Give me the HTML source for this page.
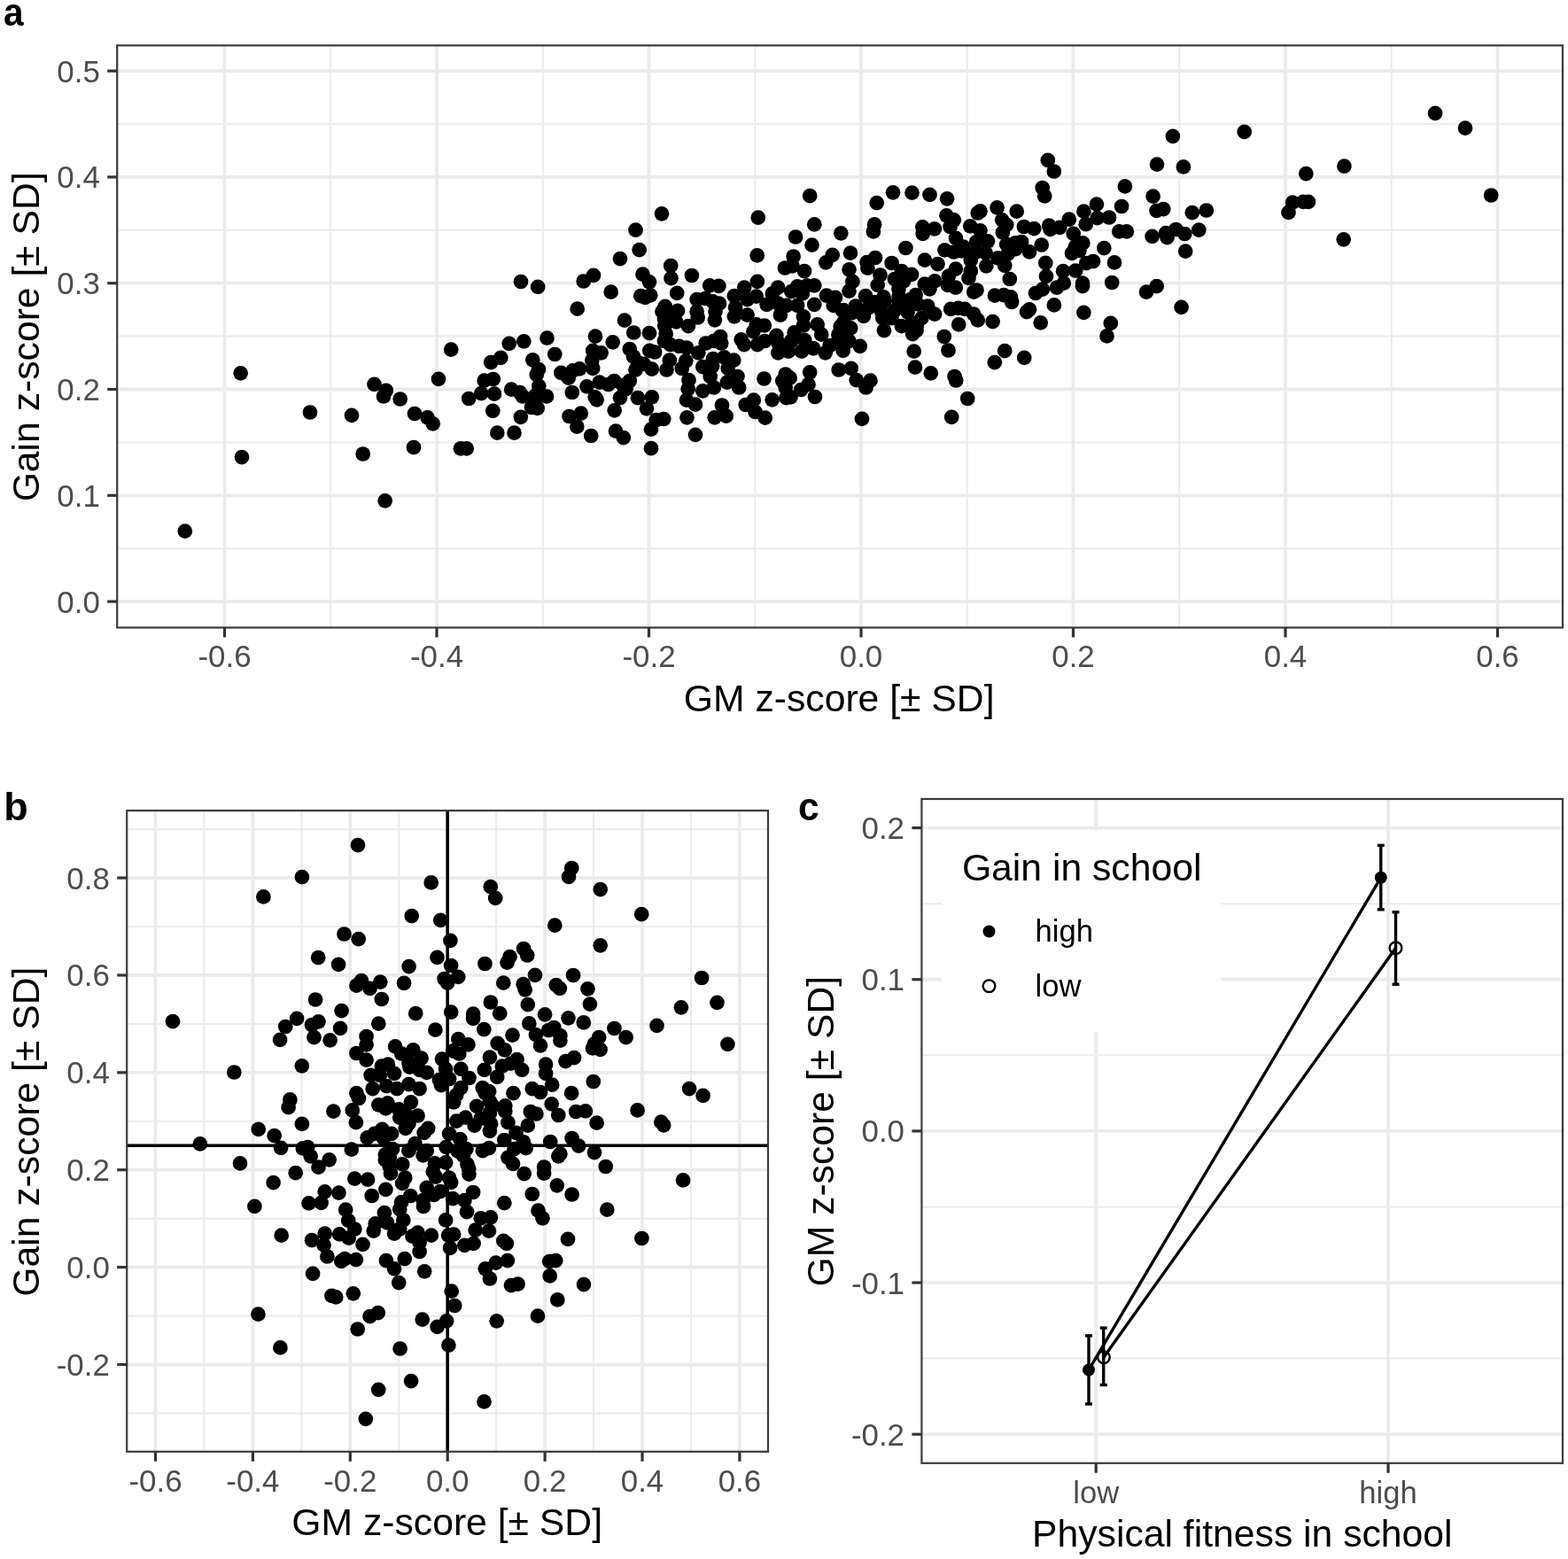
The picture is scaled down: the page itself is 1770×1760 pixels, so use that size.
<!DOCTYPE html><html><head><meta charset="utf-8"><title>Figure</title><style>html,body{margin:0;padding:0;background:#fff;}svg{display:block;}</style></head><body><svg width="1770" height="1760" viewBox="0 0 1770 1760" font-family="'Liberation Sans', Arial, Helvetica, sans-serif">
<rect width="1770" height="1760" fill="#fff"/>
<rect x="132.2" y="51.3" width="1631.8" height="657.2" fill="#fff"/>
<line x1="132.2" x2="1764.0" y1="619.20" y2="619.20" stroke="#EBEBEB" stroke-width="2.0"/>
<line x1="132.2" x2="1764.0" y1="499.40" y2="499.40" stroke="#EBEBEB" stroke-width="2.0"/>
<line x1="132.2" x2="1764.0" y1="379.60" y2="379.60" stroke="#EBEBEB" stroke-width="2.0"/>
<line x1="132.2" x2="1764.0" y1="259.80" y2="259.80" stroke="#EBEBEB" stroke-width="2.0"/>
<line x1="132.2" x2="1764.0" y1="140.00" y2="140.00" stroke="#EBEBEB" stroke-width="2.0"/>
<line x1="373.25" x2="373.25" y1="51.3" y2="708.5" stroke="#EBEBEB" stroke-width="2.0"/>
<line x1="612.75" x2="612.75" y1="51.3" y2="708.5" stroke="#EBEBEB" stroke-width="2.0"/>
<line x1="852.25" x2="852.25" y1="51.3" y2="708.5" stroke="#EBEBEB" stroke-width="2.0"/>
<line x1="1091.75" x2="1091.75" y1="51.3" y2="708.5" stroke="#EBEBEB" stroke-width="2.0"/>
<line x1="1331.25" x2="1331.25" y1="51.3" y2="708.5" stroke="#EBEBEB" stroke-width="2.0"/>
<line x1="1570.75" x2="1570.75" y1="51.3" y2="708.5" stroke="#EBEBEB" stroke-width="2.0"/>
<line x1="132.2" x2="1764.0" y1="679.10" y2="679.10" stroke="#EBEBEB" stroke-width="3.8"/>
<line x1="132.2" x2="1764.0" y1="559.30" y2="559.30" stroke="#EBEBEB" stroke-width="3.8"/>
<line x1="132.2" x2="1764.0" y1="439.50" y2="439.50" stroke="#EBEBEB" stroke-width="3.8"/>
<line x1="132.2" x2="1764.0" y1="319.70" y2="319.70" stroke="#EBEBEB" stroke-width="3.8"/>
<line x1="132.2" x2="1764.0" y1="199.90" y2="199.90" stroke="#EBEBEB" stroke-width="3.8"/>
<line x1="132.2" x2="1764.0" y1="80.10" y2="80.10" stroke="#EBEBEB" stroke-width="3.8"/>
<line x1="253.50" x2="253.50" y1="51.3" y2="708.5" stroke="#EBEBEB" stroke-width="3.8"/>
<line x1="493.00" x2="493.00" y1="51.3" y2="708.5" stroke="#EBEBEB" stroke-width="3.8"/>
<line x1="732.50" x2="732.50" y1="51.3" y2="708.5" stroke="#EBEBEB" stroke-width="3.8"/>
<line x1="972.00" x2="972.00" y1="51.3" y2="708.5" stroke="#EBEBEB" stroke-width="3.8"/>
<line x1="1211.50" x2="1211.50" y1="51.3" y2="708.5" stroke="#EBEBEB" stroke-width="3.8"/>
<line x1="1451.00" x2="1451.00" y1="51.3" y2="708.5" stroke="#EBEBEB" stroke-width="3.8"/>
<line x1="1690.50" x2="1690.50" y1="51.3" y2="708.5" stroke="#EBEBEB" stroke-width="3.8"/>
<clipPath id="ca"><rect x="132.2" y="51.3" width="1631.8" height="657.2"/></clipPath>
<g clip-path="url(#ca)" fill="#000">
<circle cx="271.7" cy="421.3" r="8.35"/>
<circle cx="350.0" cy="465.5" r="8.35"/>
<circle cx="397.0" cy="468.8" r="8.35"/>
<circle cx="422.5" cy="433.8" r="8.35"/>
<circle cx="435.8" cy="440.8" r="8.35"/>
<circle cx="433.0" cy="447.5" r="8.35"/>
<circle cx="451.7" cy="450.5" r="8.35"/>
<circle cx="468.0" cy="467.0" r="8.35"/>
<circle cx="273.0" cy="516.2" r="8.35"/>
<circle cx="409.7" cy="512.5" r="8.35"/>
<circle cx="467.0" cy="505.0" r="8.35"/>
<circle cx="434.7" cy="565.3" r="8.35"/>
<circle cx="208.8" cy="599.7" r="8.35"/>
<circle cx="482.5" cy="471.3" r="8.35"/>
<circle cx="488.7" cy="478.3" r="8.35"/>
<circle cx="509.2" cy="394.7" r="8.35"/>
<circle cx="495.0" cy="427.8" r="8.35"/>
<circle cx="520.0" cy="506.3" r="8.35"/>
<circle cx="526.7" cy="506.3" r="8.35"/>
<circle cx="529.2" cy="450.0" r="8.35"/>
<circle cx="543.3" cy="444.2" r="8.35"/>
<circle cx="546.7" cy="429.7" r="8.35"/>
<circle cx="556.7" cy="428.0" r="8.35"/>
<circle cx="558.0" cy="444.7" r="8.35"/>
<circle cx="554.2" cy="409.2" r="8.35"/>
<circle cx="565.3" cy="403.8" r="8.35"/>
<circle cx="574.7" cy="387.8" r="8.35"/>
<circle cx="591.3" cy="385.3" r="8.35"/>
<circle cx="626.3" cy="400.0" r="8.35"/>
<circle cx="601.3" cy="406.3" r="8.35"/>
<circle cx="608.0" cy="417.0" r="8.35"/>
<circle cx="605.8" cy="423.0" r="8.35"/>
<circle cx="608.3" cy="435.8" r="8.35"/>
<circle cx="617.0" cy="447.5" r="8.35"/>
<circle cx="604.2" cy="446.7" r="8.35"/>
<circle cx="603.3" cy="453.3" r="8.35"/>
<circle cx="600.0" cy="460.0" r="8.35"/>
<circle cx="606.7" cy="460.8" r="8.35"/>
<circle cx="577.2" cy="439.7" r="8.35"/>
<circle cx="586.7" cy="443.0" r="8.35"/>
<circle cx="590.0" cy="447.5" r="8.35"/>
<circle cx="556.3" cy="463.8" r="8.35"/>
<circle cx="587.8" cy="470.8" r="8.35"/>
<circle cx="561.3" cy="488.7" r="8.35"/>
<circle cx="580.5" cy="488.7" r="8.35"/>
<circle cx="633.3" cy="420.8" r="8.35"/>
<circle cx="641.7" cy="426.7" r="8.35"/>
<circle cx="646.7" cy="418.3" r="8.35"/>
<circle cx="654.2" cy="416.3" r="8.35"/>
<circle cx="645.8" cy="443.0" r="8.35"/>
<circle cx="662.5" cy="436.3" r="8.35"/>
<circle cx="669.2" cy="415.8" r="8.35"/>
<circle cx="668.3" cy="406.7" r="8.35"/>
<circle cx="669.2" cy="395.8" r="8.35"/>
<circle cx="678.7" cy="398.3" r="8.35"/>
<circle cx="691.7" cy="386.3" r="8.35"/>
<circle cx="676.7" cy="431.7" r="8.35"/>
<circle cx="686.7" cy="434.2" r="8.35"/>
<circle cx="693.3" cy="430.0" r="8.35"/>
<circle cx="703.3" cy="435.0" r="8.35"/>
<circle cx="706.7" cy="439.2" r="8.35"/>
<circle cx="710.8" cy="430.0" r="8.35"/>
<circle cx="671.7" cy="448.3" r="8.35"/>
<circle cx="673.7" cy="451.3" r="8.35"/>
<circle cx="700.0" cy="449.2" r="8.35"/>
<circle cx="710.8" cy="394.2" r="8.35"/>
<circle cx="715.0" cy="402.5" r="8.35"/>
<circle cx="720.0" cy="409.2" r="8.35"/>
<circle cx="717.5" cy="417.5" r="8.35"/>
<circle cx="726.7" cy="410.8" r="8.35"/>
<circle cx="735.8" cy="416.7" r="8.35"/>
<circle cx="733.3" cy="395.8" r="8.35"/>
<circle cx="739.2" cy="397.5" r="8.35"/>
<circle cx="750.0" cy="385.0" r="8.35"/>
<circle cx="756.7" cy="389.2" r="8.35"/>
<circle cx="766.7" cy="390.8" r="8.35"/>
<circle cx="755.8" cy="406.7" r="8.35"/>
<circle cx="752.5" cy="417.5" r="8.35"/>
<circle cx="720.0" cy="449.2" r="8.35"/>
<circle cx="735.8" cy="448.3" r="8.35"/>
<circle cx="730.0" cy="461.3" r="8.35"/>
<circle cx="693.7" cy="463.3" r="8.35"/>
<circle cx="642.5" cy="470.0" r="8.35"/>
<circle cx="655.8" cy="466.7" r="8.35"/>
<circle cx="651.3" cy="481.7" r="8.35"/>
<circle cx="667.2" cy="492.0" r="8.35"/>
<circle cx="695.0" cy="486.7" r="8.35"/>
<circle cx="703.8" cy="494.2" r="8.35"/>
<circle cx="735.0" cy="484.7" r="8.35"/>
<circle cx="740.8" cy="474.2" r="8.35"/>
<circle cx="749.2" cy="473.0" r="8.35"/>
<circle cx="735.0" cy="506.2" r="8.35"/>
<circle cx="775.0" cy="392.5" r="8.35"/>
<circle cx="788.3" cy="398.3" r="8.35"/>
<circle cx="796.7" cy="387.5" r="8.35"/>
<circle cx="805.8" cy="385.0" r="8.35"/>
<circle cx="814.2" cy="387.5" r="8.35"/>
<circle cx="774.2" cy="407.5" r="8.35"/>
<circle cx="793.3" cy="414.2" r="8.35"/>
<circle cx="805.0" cy="405.0" r="8.35"/>
<circle cx="817.5" cy="403.3" r="8.35"/>
<circle cx="828.3" cy="406.7" r="8.35"/>
<circle cx="804.2" cy="413.3" r="8.35"/>
<circle cx="821.7" cy="415.8" r="8.35"/>
<circle cx="801.7" cy="425.0" r="8.35"/>
<circle cx="832.5" cy="425.0" r="8.35"/>
<circle cx="777.5" cy="429.2" r="8.35"/>
<circle cx="820.8" cy="431.7" r="8.35"/>
<circle cx="834.2" cy="437.5" r="8.35"/>
<circle cx="805.8" cy="437.5" r="8.35"/>
<circle cx="793.3" cy="441.3" r="8.35"/>
<circle cx="776.7" cy="439.2" r="8.35"/>
<circle cx="775.0" cy="451.7" r="8.35"/>
<circle cx="785.0" cy="456.7" r="8.35"/>
<circle cx="775.5" cy="471.3" r="8.35"/>
<circle cx="815.0" cy="457.5" r="8.35"/>
<circle cx="806.7" cy="471.3" r="8.35"/>
<circle cx="819.7" cy="469.7" r="8.35"/>
<circle cx="785.0" cy="490.8" r="8.35"/>
<circle cx="841.7" cy="457.0" r="8.35"/>
<circle cx="850.8" cy="451.7" r="8.35"/>
<circle cx="852.5" cy="465.0" r="8.35"/>
<circle cx="863.7" cy="471.7" r="8.35"/>
<circle cx="871.7" cy="451.3" r="8.35"/>
<circle cx="862.5" cy="427.5" r="8.35"/>
<circle cx="886.7" cy="422.5" r="8.35"/>
<circle cx="891.7" cy="426.7" r="8.35"/>
<circle cx="883.3" cy="430.0" r="8.35"/>
<circle cx="886.7" cy="437.5" r="8.35"/>
<circle cx="887.5" cy="449.2" r="8.35"/>
<circle cx="892.5" cy="448.3" r="8.35"/>
<circle cx="904.2" cy="440.0" r="8.35"/>
<circle cx="912.5" cy="434.2" r="8.35"/>
<circle cx="914.2" cy="420.3" r="8.35"/>
<circle cx="920.0" cy="448.0" r="8.35"/>
<circle cx="946.7" cy="417.5" r="8.35"/>
<circle cx="960.8" cy="415.8" r="8.35"/>
<circle cx="966.7" cy="429.2" r="8.35"/>
<circle cx="977.5" cy="437.5" r="8.35"/>
<circle cx="982.5" cy="429.7" r="8.35"/>
<circle cx="973.0" cy="472.8" r="8.35"/>
<circle cx="1031.7" cy="396.7" r="8.35"/>
<circle cx="1033.0" cy="414.7" r="8.35"/>
<circle cx="1050.8" cy="421.3" r="8.35"/>
<circle cx="840.0" cy="389.2" r="8.35"/>
<circle cx="855.0" cy="389.2" r="8.35"/>
<circle cx="836.7" cy="383.3" r="8.35"/>
<circle cx="863.3" cy="385.0" r="8.35"/>
<circle cx="878.3" cy="398.3" r="8.35"/>
<circle cx="878.3" cy="386.7" r="8.35"/>
<circle cx="890.0" cy="396.7" r="8.35"/>
<circle cx="893.3" cy="385.0" r="8.35"/>
<circle cx="905.0" cy="396.7" r="8.35"/>
<circle cx="908.3" cy="384.2" r="8.35"/>
<circle cx="918.3" cy="393.3" r="8.35"/>
<circle cx="931.7" cy="398.3" r="8.35"/>
<circle cx="936.7" cy="390.0" r="8.35"/>
<circle cx="951.7" cy="395.8" r="8.35"/>
<circle cx="946.7" cy="383.3" r="8.35"/>
<circle cx="958.3" cy="385.0" r="8.35"/>
<circle cx="970.8" cy="390.8" r="8.35"/>
<circle cx="1070.5" cy="395.5" r="8.35"/>
<circle cx="1077.5" cy="425.0" r="8.35"/>
<circle cx="1079.2" cy="429.5" r="8.35"/>
<circle cx="1092.2" cy="450.0" r="8.35"/>
<circle cx="1074.2" cy="470.8" r="8.35"/>
<circle cx="1122.8" cy="409.2" r="8.35"/>
<circle cx="1134.2" cy="396.2" r="8.35"/>
<circle cx="1156.2" cy="403.8" r="8.35"/>
<circle cx="617.5" cy="381.7" r="8.35"/>
<circle cx="672.0" cy="379.7" r="8.35"/>
<circle cx="715.3" cy="375.5" r="8.35"/>
<circle cx="733.0" cy="376.2" r="8.35"/>
<circle cx="705.0" cy="361.7" r="8.35"/>
<circle cx="651.7" cy="348.7" r="8.35"/>
<circle cx="689.7" cy="329.7" r="8.35"/>
<circle cx="658.7" cy="317.5" r="8.35"/>
<circle cx="670.0" cy="310.8" r="8.35"/>
<circle cx="588.0" cy="318.0" r="8.35"/>
<circle cx="607.2" cy="323.8" r="8.35"/>
<circle cx="700.0" cy="292.2" r="8.35"/>
<circle cx="721.7" cy="282.2" r="8.35"/>
<circle cx="725.5" cy="309.7" r="8.35"/>
<circle cx="733.0" cy="318.3" r="8.35"/>
<circle cx="723.3" cy="334.2" r="8.35"/>
<circle cx="728.3" cy="335.8" r="8.35"/>
<circle cx="734.2" cy="333.3" r="8.35"/>
<circle cx="757.2" cy="300.0" r="8.35"/>
<circle cx="757.5" cy="314.2" r="8.35"/>
<circle cx="764.2" cy="330.8" r="8.35"/>
<circle cx="750.8" cy="345.8" r="8.35"/>
<circle cx="747.5" cy="351.7" r="8.35"/>
<circle cx="765.0" cy="350.8" r="8.35"/>
<circle cx="750.0" cy="360.0" r="8.35"/>
<circle cx="763.3" cy="363.3" r="8.35"/>
<circle cx="751.7" cy="376.7" r="8.35"/>
<circle cx="919.3" cy="253.4" r="8.35"/>
<circle cx="949.3" cy="263.3" r="8.35"/>
<circle cx="898.1" cy="267.5" r="8.35"/>
<circle cx="916.5" cy="276.6" r="8.35"/>
<circle cx="854.7" cy="288.4" r="8.35"/>
<circle cx="895.6" cy="289.5" r="8.35"/>
<circle cx="939.7" cy="287.9" r="8.35"/>
<circle cx="932.3" cy="296.3" r="8.35"/>
<circle cx="886.0" cy="302.5" r="8.35"/>
<circle cx="894.5" cy="300.3" r="8.35"/>
<circle cx="908.0" cy="306.0" r="8.35"/>
<circle cx="780.9" cy="311.0" r="8.35"/>
<circle cx="801.2" cy="322.3" r="8.35"/>
<circle cx="811.4" cy="322.9" r="8.35"/>
<circle cx="854.9" cy="317.8" r="8.35"/>
<circle cx="840.2" cy="324.6" r="8.35"/>
<circle cx="828.9" cy="334.2" r="8.35"/>
<circle cx="853.8" cy="334.7" r="8.35"/>
<circle cx="843.6" cy="338.1" r="8.35"/>
<circle cx="878.1" cy="324.6" r="8.35"/>
<circle cx="871.9" cy="331.4" r="8.35"/>
<circle cx="900.1" cy="323.4" r="8.35"/>
<circle cx="910.8" cy="322.3" r="8.35"/>
<circle cx="919.3" cy="322.3" r="8.35"/>
<circle cx="893.3" cy="329.1" r="8.35"/>
<circle cx="905.8" cy="331.4" r="8.35"/>
<circle cx="932.9" cy="333.6" r="8.35"/>
<circle cx="943.0" cy="335.9" r="8.35"/>
<circle cx="919.3" cy="343.8" r="8.35"/>
<circle cx="940.8" cy="344.9" r="8.35"/>
<circle cx="951.0" cy="350.6" r="8.35"/>
<circle cx="865.6" cy="343.8" r="8.35"/>
<circle cx="878.6" cy="342.7" r="8.35"/>
<circle cx="887.7" cy="344.9" r="8.35"/>
<circle cx="900.1" cy="344.9" r="8.35"/>
<circle cx="880.9" cy="355.6" r="8.35"/>
<circle cx="906.9" cy="357.3" r="8.35"/>
<circle cx="786.6" cy="338.1" r="8.35"/>
<circle cx="796.2" cy="337.0" r="8.35"/>
<circle cx="804.6" cy="340.4" r="8.35"/>
<circle cx="812.0" cy="342.7" r="8.35"/>
<circle cx="786.6" cy="351.7" r="8.35"/>
<circle cx="807.5" cy="351.7" r="8.35"/>
<circle cx="830.1" cy="347.2" r="8.35"/>
<circle cx="828.9" cy="357.3" r="8.35"/>
<circle cx="843.6" cy="355.6" r="8.35"/>
<circle cx="787.7" cy="358.5" r="8.35"/>
<circle cx="806.9" cy="361.3" r="8.35"/>
<circle cx="777.0" cy="368.1" r="8.35"/>
<circle cx="853.8" cy="366.4" r="8.35"/>
<circle cx="862.8" cy="367.5" r="8.35"/>
<circle cx="922.7" cy="366.4" r="8.35"/>
<circle cx="948.7" cy="368.6" r="8.35"/>
<circle cx="906.9" cy="367.5" r="8.35"/>
<circle cx="850.4" cy="374.3" r="8.35"/>
<circle cx="876.4" cy="378.8" r="8.35"/>
<circle cx="896.7" cy="375.4" r="8.35"/>
<circle cx="927.2" cy="377.7" r="8.35"/>
<circle cx="946.4" cy="377.7" r="8.35"/>
<circle cx="813.1" cy="380.0" r="8.35"/>
<circle cx="717.5" cy="259.7" r="8.35"/>
<circle cx="747.0" cy="241.3" r="8.35"/>
<circle cx="914.2" cy="221.2" r="8.35"/>
<circle cx="855.8" cy="245.6" r="8.35"/>
<circle cx="960.0" cy="285.6" r="8.35"/>
<circle cx="989.7" cy="229.2" r="8.35"/>
<circle cx="1008.0" cy="217.3" r="8.35"/>
<circle cx="1029.5" cy="217.6" r="8.35"/>
<circle cx="1049.5" cy="219.8" r="8.35"/>
<circle cx="987.1" cy="253.4" r="8.35"/>
<circle cx="985.9" cy="261.4" r="8.35"/>
<circle cx="1041.4" cy="256.3" r="8.35"/>
<circle cx="1041.7" cy="263.9" r="8.35"/>
<circle cx="1054.9" cy="258.3" r="8.35"/>
<circle cx="1022.4" cy="280.0" r="8.35"/>
<circle cx="988.0" cy="291.0" r="8.35"/>
<circle cx="978.6" cy="296.1" r="8.35"/>
<circle cx="1006.6" cy="297.0" r="8.35"/>
<circle cx="1043.9" cy="293.6" r="8.35"/>
<circle cx="1066.4" cy="282.3" r="8.35"/>
<circle cx="1076.6" cy="284.5" r="8.35"/>
<circle cx="1085.6" cy="283.4" r="8.35"/>
<circle cx="1101.4" cy="284.5" r="8.35"/>
<circle cx="1112.7" cy="285.6" r="8.35"/>
<circle cx="1126.3" cy="291.3" r="8.35"/>
<circle cx="1137.6" cy="286.8" r="8.35"/>
<circle cx="1146.6" cy="281.1" r="8.35"/>
<circle cx="1134.2" cy="299.8" r="8.35"/>
<circle cx="1113.3" cy="300.3" r="8.35"/>
<circle cx="1095.8" cy="293.6" r="8.35"/>
<circle cx="1095.8" cy="306.0" r="8.35"/>
<circle cx="1093.5" cy="313.9" r="8.35"/>
<circle cx="1078.8" cy="303.7" r="8.35"/>
<circle cx="1139.8" cy="315.0" r="8.35"/>
<circle cx="1058.5" cy="298.1" r="8.35"/>
<circle cx="979.4" cy="302.6" r="8.35"/>
<circle cx="958.5" cy="304.3" r="8.35"/>
<circle cx="962.4" cy="317.9" r="8.35"/>
<circle cx="958.5" cy="328.6" r="8.35"/>
<circle cx="993.5" cy="310.5" r="8.35"/>
<circle cx="990.7" cy="321.8" r="8.35"/>
<circle cx="1017.8" cy="306.0" r="8.35"/>
<circle cx="1029.1" cy="309.9" r="8.35"/>
<circle cx="1009.9" cy="315.0" r="8.35"/>
<circle cx="1020.1" cy="317.3" r="8.35"/>
<circle cx="1014.4" cy="326.3" r="8.35"/>
<circle cx="1043.8" cy="320.7" r="8.35"/>
<circle cx="1055.1" cy="317.3" r="8.35"/>
<circle cx="1049.4" cy="326.3" r="8.35"/>
<circle cx="1069.8" cy="321.8" r="8.35"/>
<circle cx="1078.8" cy="324.6" r="8.35"/>
<circle cx="1070.9" cy="311.6" r="8.35"/>
<circle cx="1099.2" cy="329.7" r="8.35"/>
<circle cx="1102.5" cy="327.5" r="8.35"/>
<circle cx="1122.9" cy="333.7" r="8.35"/>
<circle cx="1133.1" cy="333.1" r="8.35"/>
<circle cx="1141.0" cy="335.4" r="8.35"/>
<circle cx="1142.1" cy="341.0" r="8.35"/>
<circle cx="977.1" cy="334.2" r="8.35"/>
<circle cx="997.5" cy="335.4" r="8.35"/>
<circle cx="987.3" cy="341.0" r="8.35"/>
<circle cx="965.8" cy="345.5" r="8.35"/>
<circle cx="952.3" cy="350.1" r="8.35"/>
<circle cx="974.9" cy="356.8" r="8.35"/>
<circle cx="961.3" cy="353.4" r="8.35"/>
<circle cx="995.2" cy="352.3" r="8.35"/>
<circle cx="996.3" cy="359.1" r="8.35"/>
<circle cx="1006.5" cy="359.1" r="8.35"/>
<circle cx="1014.4" cy="339.9" r="8.35"/>
<circle cx="1022.3" cy="345.5" r="8.35"/>
<circle cx="1033.6" cy="333.1" r="8.35"/>
<circle cx="1035.9" cy="343.3" r="8.35"/>
<circle cx="1047.2" cy="345.5" r="8.35"/>
<circle cx="1024.6" cy="352.3" r="8.35"/>
<circle cx="1055.1" cy="354.6" r="8.35"/>
<circle cx="1040.4" cy="359.1" r="8.35"/>
<circle cx="1034.7" cy="368.1" r="8.35"/>
<circle cx="1017.8" cy="368.1" r="8.35"/>
<circle cx="1030.2" cy="377.2" r="8.35"/>
<circle cx="998.0" cy="373.2" r="8.35"/>
<circle cx="960.2" cy="370.4" r="8.35"/>
<circle cx="952.3" cy="363.6" r="8.35"/>
<circle cx="956.8" cy="384.0" r="8.35"/>
<circle cx="1065.8" cy="380.0" r="8.35"/>
<circle cx="1082.2" cy="366.4" r="8.35"/>
<circle cx="1073.2" cy="348.9" r="8.35"/>
<circle cx="1081.6" cy="347.8" r="8.35"/>
<circle cx="1089.0" cy="348.9" r="8.35"/>
<circle cx="1099.2" cy="354.6" r="8.35"/>
<circle cx="1103.7" cy="361.4" r="8.35"/>
<circle cx="1120.6" cy="363.1" r="8.35"/>
<circle cx="1182.8" cy="180.9" r="8.35"/>
<circle cx="1189.8" cy="193.5" r="8.35"/>
<circle cx="1176.7" cy="212.0" r="8.35"/>
<circle cx="1179.2" cy="221.4" r="8.35"/>
<circle cx="1269.9" cy="210.4" r="8.35"/>
<circle cx="1266.1" cy="233.0" r="8.35"/>
<circle cx="1237.9" cy="230.6" r="8.35"/>
<circle cx="1223.4" cy="238.7" r="8.35"/>
<circle cx="1252.0" cy="245.5" r="8.35"/>
<circle cx="1238.6" cy="246.2" r="8.35"/>
<circle cx="1225.8" cy="253.2" r="8.35"/>
<circle cx="1206.8" cy="247.6" r="8.35"/>
<circle cx="1211.7" cy="263.8" r="8.35"/>
<circle cx="1263.3" cy="261.4" r="8.35"/>
<circle cx="1271.8" cy="261.4" r="8.35"/>
<circle cx="1246.3" cy="280.1" r="8.35"/>
<circle cx="1222.3" cy="274.4" r="8.35"/>
<circle cx="1213.8" cy="278.6" r="8.35"/>
<circle cx="1175.7" cy="276.5" r="8.35"/>
<circle cx="1196.2" cy="256.8" r="8.35"/>
<circle cx="1184.2" cy="254.6" r="8.35"/>
<circle cx="1185.6" cy="258.9" r="8.35"/>
<circle cx="1167.2" cy="258.2" r="8.35"/>
<circle cx="1155.9" cy="256.0" r="8.35"/>
<circle cx="1147.7" cy="238.7" r="8.35"/>
<circle cx="1125.6" cy="234.4" r="8.35"/>
<circle cx="1106.5" cy="238.4" r="8.35"/>
<circle cx="1103.7" cy="240.5" r="8.35"/>
<circle cx="1131.2" cy="248.3" r="8.35"/>
<circle cx="1136.2" cy="253.9" r="8.35"/>
<circle cx="1131.9" cy="262.4" r="8.35"/>
<circle cx="1136.2" cy="275.8" r="8.35"/>
<circle cx="1153.1" cy="273.0" r="8.35"/>
<circle cx="1146.0" cy="274.4" r="8.35"/>
<circle cx="1069.1" cy="224.3" r="8.35"/>
<circle cx="1068.4" cy="243.3" r="8.35"/>
<circle cx="1076.8" cy="248.3" r="8.35"/>
<circle cx="1072.6" cy="256.0" r="8.35"/>
<circle cx="1095.2" cy="255.3" r="8.35"/>
<circle cx="1106.5" cy="260.3" r="8.35"/>
<circle cx="1079.0" cy="268.8" r="8.35"/>
<circle cx="1087.4" cy="278.6" r="8.35"/>
<circle cx="1102.3" cy="273.0" r="8.35"/>
<circle cx="1115.0" cy="272.3" r="8.35"/>
<circle cx="1162.0" cy="284.4" r="8.35"/>
<circle cx="1210.0" cy="285.8" r="8.35"/>
<circle cx="1218.4" cy="283.0" r="8.35"/>
<circle cx="1338.2" cy="283.6" r="8.35"/>
<circle cx="1180.3" cy="296.8" r="8.35"/>
<circle cx="1226.2" cy="297.1" r="8.35"/>
<circle cx="1234.0" cy="295.0" r="8.35"/>
<circle cx="1258.0" cy="296.4" r="8.35"/>
<circle cx="1200.1" cy="306.2" r="8.35"/>
<circle cx="1214.2" cy="305.5" r="8.35"/>
<circle cx="1181.0" cy="311.9" r="8.35"/>
<circle cx="1222.0" cy="319.7" r="8.35"/>
<circle cx="1222.0" cy="323.2" r="8.35"/>
<circle cx="1255.2" cy="319.0" r="8.35"/>
<circle cx="1200.8" cy="319.7" r="8.35"/>
<circle cx="1193.0" cy="324.6" r="8.35"/>
<circle cx="1176.8" cy="326.7" r="8.35"/>
<circle cx="1169.0" cy="331.0" r="8.35"/>
<circle cx="1294.0" cy="329.6" r="8.35"/>
<circle cx="1305.7" cy="323.2" r="8.35"/>
<circle cx="1333.6" cy="346.9" r="8.35"/>
<circle cx="1162.0" cy="349.3" r="8.35"/>
<circle cx="1159.1" cy="352.2" r="8.35"/>
<circle cx="1189.9" cy="344.4" r="8.35"/>
<circle cx="1223.4" cy="352.9" r="8.35"/>
<circle cx="1174.7" cy="364.4" r="8.35"/>
<circle cx="1253.8" cy="364.9" r="8.35"/>
<circle cx="1249.5" cy="379.4" r="8.35"/>
<circle cx="1323.9" cy="153.8" r="8.35"/>
<circle cx="1404.7" cy="148.8" r="8.35"/>
<circle cx="1306.0" cy="185.6" r="8.35"/>
<circle cx="1335.9" cy="188.4" r="8.35"/>
<circle cx="1474.3" cy="196.2" r="8.35"/>
<circle cx="1517.4" cy="187.7" r="8.35"/>
<circle cx="1301.6" cy="221.6" r="8.35"/>
<circle cx="1305.5" cy="237.8" r="8.35"/>
<circle cx="1313.3" cy="236.1" r="8.35"/>
<circle cx="1345.8" cy="240.2" r="8.35"/>
<circle cx="1361.8" cy="237.5" r="8.35"/>
<circle cx="1300.6" cy="266.8" r="8.35"/>
<circle cx="1316.1" cy="263.2" r="8.35"/>
<circle cx="1317.5" cy="268.2" r="8.35"/>
<circle cx="1327.4" cy="259.0" r="8.35"/>
<circle cx="1337.3" cy="264.0" r="8.35"/>
<circle cx="1353.3" cy="259.7" r="8.35"/>
<circle cx="1459.1" cy="228.6" r="8.35"/>
<circle cx="1471.2" cy="227.9" r="8.35"/>
<circle cx="1476.9" cy="227.9" r="8.35"/>
<circle cx="1454.5" cy="239.9" r="8.35"/>
<circle cx="1516.7" cy="270.3" r="8.35"/>
<circle cx="1620.1" cy="127.9" r="8.35"/>
<circle cx="1654.0" cy="144.6" r="8.35"/>
<circle cx="1683.2" cy="220.5" r="8.35"/>
<circle cx="769.8" cy="416.0" r="8.35"/>
<circle cx="1014.6" cy="334.6" r="8.35"/>
<circle cx="1019.5" cy="344.6" r="8.35"/>
<circle cx="1009.6" cy="350.8" r="8.35"/>
<circle cx="998.4" cy="339.6" r="8.35"/>
<circle cx="981.0" cy="347.0" r="8.35"/>
<circle cx="998.4" cy="357.0" r="8.35"/>
<circle cx="1029.5" cy="364.5" r="8.35"/>
<circle cx="1034.5" cy="373.2" r="8.35"/>
<circle cx="1027.0" cy="338.4" r="8.35"/>
<circle cx="750.3" cy="368.0" r="8.35"/>
<circle cx="754.0" cy="356.0" r="8.35"/>
</g>
<rect x="132.2" y="51.3" width="1631.8" height="657.2" fill="none" stroke="#3b3b3b" stroke-width="2.2"/>
<line x1="121.20" x2="132.2" y1="679.10" y2="679.10" stroke="#333333" stroke-width="3.2"/>
<text transform="translate(112.80 691.60) scale(1.0 1.03)" text-anchor="end" fill="#4D4D4D" font-size="34.9">0.0</text>
<line x1="121.20" x2="132.2" y1="559.30" y2="559.30" stroke="#333333" stroke-width="3.2"/>
<text transform="translate(112.80 571.80) scale(1.0 1.03)" text-anchor="end" fill="#4D4D4D" font-size="34.9">0.1</text>
<line x1="121.20" x2="132.2" y1="439.50" y2="439.50" stroke="#333333" stroke-width="3.2"/>
<text transform="translate(112.80 452.00) scale(1.0 1.03)" text-anchor="end" fill="#4D4D4D" font-size="34.9">0.2</text>
<line x1="121.20" x2="132.2" y1="319.70" y2="319.70" stroke="#333333" stroke-width="3.2"/>
<text transform="translate(112.80 332.20) scale(1.0 1.03)" text-anchor="end" fill="#4D4D4D" font-size="34.9">0.3</text>
<line x1="121.20" x2="132.2" y1="199.90" y2="199.90" stroke="#333333" stroke-width="3.2"/>
<text transform="translate(112.80 212.40) scale(1.0 1.03)" text-anchor="end" fill="#4D4D4D" font-size="34.9">0.4</text>
<line x1="121.20" x2="132.2" y1="80.10" y2="80.10" stroke="#333333" stroke-width="3.2"/>
<text transform="translate(112.80 92.60) scale(1.0 1.03)" text-anchor="end" fill="#4D4D4D" font-size="34.9">0.5</text>
<line x1="253.50" x2="253.50" y1="708.5" y2="719.50" stroke="#333333" stroke-width="3.2"/>
<text transform="translate(253.50 753.40) scale(1.0 1.03)" text-anchor="middle" fill="#4D4D4D" font-size="34.9">-0.6</text>
<line x1="493.00" x2="493.00" y1="708.5" y2="719.50" stroke="#333333" stroke-width="3.2"/>
<text transform="translate(493.00 753.40) scale(1.0 1.03)" text-anchor="middle" fill="#4D4D4D" font-size="34.9">-0.4</text>
<line x1="732.50" x2="732.50" y1="708.5" y2="719.50" stroke="#333333" stroke-width="3.2"/>
<text transform="translate(732.50 753.40) scale(1.0 1.03)" text-anchor="middle" fill="#4D4D4D" font-size="34.9">-0.2</text>
<line x1="972.00" x2="972.00" y1="708.5" y2="719.50" stroke="#333333" stroke-width="3.2"/>
<text transform="translate(972.00 753.40) scale(1.0 1.03)" text-anchor="middle" fill="#4D4D4D" font-size="34.9">0.0</text>
<line x1="1211.50" x2="1211.50" y1="708.5" y2="719.50" stroke="#333333" stroke-width="3.2"/>
<text transform="translate(1211.50 753.40) scale(1.0 1.03)" text-anchor="middle" fill="#4D4D4D" font-size="34.9">0.2</text>
<line x1="1451.00" x2="1451.00" y1="708.5" y2="719.50" stroke="#333333" stroke-width="3.2"/>
<text transform="translate(1451.00 753.40) scale(1.0 1.03)" text-anchor="middle" fill="#4D4D4D" font-size="34.9">0.4</text>
<line x1="1690.50" x2="1690.50" y1="708.5" y2="719.50" stroke="#333333" stroke-width="3.2"/>
<text transform="translate(1690.50 753.40) scale(1.0 1.03)" text-anchor="middle" fill="#4D4D4D" font-size="34.9">0.6</text>
<text transform="translate(947.15 802.70)" text-anchor="middle" font-size="42.7">GM z-score [± SD]</text>
<text transform="translate(44.20 380.30) rotate(-90)" text-anchor="middle" font-size="42.7">Gain z-score [± SD]</text>
<text transform="translate(4.00 28.90) scale(0.9 1.0)" font-size="45" font-weight="bold">a</text>
<rect x="143.2" y="915.1" width="723.8" height="723.6999999999999" fill="#fff"/>
<line x1="143.2" x2="867.0" y1="1595.42" y2="1595.42" stroke="#EBEBEB" stroke-width="2.0"/>
<line x1="143.2" x2="867.0" y1="1485.54" y2="1485.54" stroke="#EBEBEB" stroke-width="2.0"/>
<line x1="143.2" x2="867.0" y1="1375.66" y2="1375.66" stroke="#EBEBEB" stroke-width="2.0"/>
<line x1="143.2" x2="867.0" y1="1265.78" y2="1265.78" stroke="#EBEBEB" stroke-width="2.0"/>
<line x1="143.2" x2="867.0" y1="1155.90" y2="1155.90" stroke="#EBEBEB" stroke-width="2.0"/>
<line x1="143.2" x2="867.0" y1="1046.02" y2="1046.02" stroke="#EBEBEB" stroke-width="2.0"/>
<line x1="143.2" x2="867.0" y1="936.14" y2="936.14" stroke="#EBEBEB" stroke-width="2.0"/>
<line x1="230.45" x2="230.45" y1="915.1" y2="1638.8" stroke="#EBEBEB" stroke-width="2.0"/>
<line x1="340.35" x2="340.35" y1="915.1" y2="1638.8" stroke="#EBEBEB" stroke-width="2.0"/>
<line x1="450.25" x2="450.25" y1="915.1" y2="1638.8" stroke="#EBEBEB" stroke-width="2.0"/>
<line x1="560.15" x2="560.15" y1="915.1" y2="1638.8" stroke="#EBEBEB" stroke-width="2.0"/>
<line x1="670.05" x2="670.05" y1="915.1" y2="1638.8" stroke="#EBEBEB" stroke-width="2.0"/>
<line x1="779.95" x2="779.95" y1="915.1" y2="1638.8" stroke="#EBEBEB" stroke-width="2.0"/>
<line x1="143.2" x2="867.0" y1="1540.48" y2="1540.48" stroke="#EBEBEB" stroke-width="3.8"/>
<line x1="143.2" x2="867.0" y1="1430.60" y2="1430.60" stroke="#EBEBEB" stroke-width="3.8"/>
<line x1="143.2" x2="867.0" y1="1320.72" y2="1320.72" stroke="#EBEBEB" stroke-width="3.8"/>
<line x1="143.2" x2="867.0" y1="1210.84" y2="1210.84" stroke="#EBEBEB" stroke-width="3.8"/>
<line x1="143.2" x2="867.0" y1="1100.96" y2="1100.96" stroke="#EBEBEB" stroke-width="3.8"/>
<line x1="143.2" x2="867.0" y1="991.08" y2="991.08" stroke="#EBEBEB" stroke-width="3.8"/>
<line x1="175.50" x2="175.50" y1="915.1" y2="1638.8" stroke="#EBEBEB" stroke-width="3.8"/>
<line x1="285.40" x2="285.40" y1="915.1" y2="1638.8" stroke="#EBEBEB" stroke-width="3.8"/>
<line x1="395.30" x2="395.30" y1="915.1" y2="1638.8" stroke="#EBEBEB" stroke-width="3.8"/>
<line x1="505.20" x2="505.20" y1="915.1" y2="1638.8" stroke="#EBEBEB" stroke-width="3.8"/>
<line x1="615.10" x2="615.10" y1="915.1" y2="1638.8" stroke="#EBEBEB" stroke-width="3.8"/>
<line x1="725.00" x2="725.00" y1="915.1" y2="1638.8" stroke="#EBEBEB" stroke-width="3.8"/>
<line x1="834.90" x2="834.90" y1="915.1" y2="1638.8" stroke="#EBEBEB" stroke-width="3.8"/>
<clipPath id="cb"><rect x="143.2" y="915.1" width="723.8" height="723.6999999999999"/></clipPath>
<g clip-path="url(#cb)" fill="#000">
<circle cx="340.9" cy="990.1" r="8.35"/>
<circle cx="297.4" cy="1012.4" r="8.35"/>
<circle cx="359.2" cy="1081.2" r="8.35"/>
<circle cx="382.1" cy="1088.9" r="8.35"/>
<circle cx="404.0" cy="954.1" r="8.35"/>
<circle cx="486.7" cy="996.4" r="8.35"/>
<circle cx="553.8" cy="1001.2" r="8.35"/>
<circle cx="559.2" cy="1013.8" r="8.35"/>
<circle cx="464.7" cy="1034.1" r="8.35"/>
<circle cx="497.3" cy="1038.9" r="8.35"/>
<circle cx="388.5" cy="1054.5" r="8.35"/>
<circle cx="404.7" cy="1060.2" r="8.35"/>
<circle cx="508.4" cy="1061.8" r="8.35"/>
<circle cx="493.5" cy="1080.9" r="8.35"/>
<circle cx="509.1" cy="1090.0" r="8.35"/>
<circle cx="461.6" cy="1091.1" r="8.35"/>
<circle cx="547.4" cy="1088.0" r="8.35"/>
<circle cx="575.5" cy="1080.2" r="8.35"/>
<circle cx="572.5" cy="1086.6" r="8.35"/>
<circle cx="591.1" cy="1071.0" r="8.35"/>
<circle cx="595.2" cy="1078.5" r="8.35"/>
<circle cx="604.0" cy="1100.8" r="8.35"/>
<circle cx="517.2" cy="1102.9" r="8.35"/>
<circle cx="501.6" cy="1105.0" r="8.35"/>
<circle cx="645.3" cy="980.0" r="8.35"/>
<circle cx="642.0" cy="989.8" r="8.35"/>
<circle cx="677.7" cy="1004.1" r="8.35"/>
<circle cx="724.2" cy="1032.2" r="8.35"/>
<circle cx="626.3" cy="1044.7" r="8.35"/>
<circle cx="677.7" cy="1067.3" r="8.35"/>
<circle cx="647.1" cy="1101.0" r="8.35"/>
<circle cx="792.1" cy="1104.0" r="8.35"/>
<circle cx="195.0" cy="1153.2" r="8.35"/>
<circle cx="356.1" cy="1128.5" r="8.35"/>
<circle cx="335.1" cy="1149.8" r="8.35"/>
<circle cx="322.2" cy="1159.0" r="8.35"/>
<circle cx="352.0" cy="1157.0" r="8.35"/>
<circle cx="359.5" cy="1153.3" r="8.35"/>
<circle cx="316.1" cy="1173.9" r="8.35"/>
<circle cx="354.5" cy="1171.2" r="8.35"/>
<circle cx="372.6" cy="1174.3" r="8.35"/>
<circle cx="340.8" cy="1203.3" r="8.35"/>
<circle cx="264.3" cy="1210.5" r="8.35"/>
<circle cx="327.4" cy="1241.4" r="8.35"/>
<circle cx="325.6" cy="1250.2" r="8.35"/>
<circle cx="376.4" cy="1254.6" r="8.35"/>
<circle cx="340.9" cy="1268.8" r="8.35"/>
<circle cx="291.7" cy="1274.9" r="8.35"/>
<circle cx="402.4" cy="1112.7" r="8.35"/>
<circle cx="408.0" cy="1107.1" r="8.35"/>
<circle cx="417.6" cy="1115.8" r="8.35"/>
<circle cx="429.3" cy="1108.6" r="8.35"/>
<circle cx="456.1" cy="1109.9" r="8.35"/>
<circle cx="430.8" cy="1128.0" r="8.35"/>
<circle cx="505.1" cy="1109.7" r="8.35"/>
<circle cx="385.6" cy="1141.2" r="8.35"/>
<circle cx="384.1" cy="1160.8" r="8.35"/>
<circle cx="427.3" cy="1155.7" r="8.35"/>
<circle cx="469.2" cy="1144.2" r="8.35"/>
<circle cx="509.2" cy="1142.7" r="8.35"/>
<circle cx="491.4" cy="1162.7" r="8.35"/>
<circle cx="534.1" cy="1144.7" r="8.35"/>
<circle cx="534.1" cy="1149.8" r="8.35"/>
<circle cx="553.9" cy="1131.5" r="8.35"/>
<circle cx="546.3" cy="1162.2" r="8.35"/>
<circle cx="413.6" cy="1170.0" r="8.35"/>
<circle cx="413.6" cy="1179.3" r="8.35"/>
<circle cx="402.4" cy="1189.0" r="8.35"/>
<circle cx="413.6" cy="1196.6" r="8.35"/>
<circle cx="446.1" cy="1181.4" r="8.35"/>
<circle cx="453.2" cy="1189.5" r="8.35"/>
<circle cx="466.4" cy="1185.4" r="8.35"/>
<circle cx="475.6" cy="1194.6" r="8.35"/>
<circle cx="461.4" cy="1199.7" r="8.35"/>
<circle cx="462.4" cy="1204.7" r="8.35"/>
<circle cx="481.7" cy="1210.9" r="8.35"/>
<circle cx="473.6" cy="1207.8" r="8.35"/>
<circle cx="430.8" cy="1203.7" r="8.35"/>
<circle cx="438.0" cy="1201.7" r="8.35"/>
<circle cx="445.1" cy="1211.9" r="8.35"/>
<circle cx="418.6" cy="1213.9" r="8.35"/>
<circle cx="428.8" cy="1213.9" r="8.35"/>
<circle cx="420.7" cy="1229.2" r="8.35"/>
<circle cx="436.4" cy="1226.1" r="8.35"/>
<circle cx="448.1" cy="1229.2" r="8.35"/>
<circle cx="461.4" cy="1224.1" r="8.35"/>
<circle cx="473.6" cy="1229.2" r="8.35"/>
<circle cx="402.4" cy="1234.2" r="8.35"/>
<circle cx="499.0" cy="1195.6" r="8.35"/>
<circle cx="503.1" cy="1206.8" r="8.35"/>
<circle cx="495.9" cy="1219.0" r="8.35"/>
<circle cx="498.0" cy="1225.1" r="8.35"/>
<circle cx="507.1" cy="1218.0" r="8.35"/>
<circle cx="517.3" cy="1173.2" r="8.35"/>
<circle cx="528.5" cy="1179.3" r="8.35"/>
<circle cx="518.3" cy="1189.5" r="8.35"/>
<circle cx="511.2" cy="1186.4" r="8.35"/>
<circle cx="520.3" cy="1206.8" r="8.35"/>
<circle cx="529.5" cy="1217.0" r="8.35"/>
<circle cx="520.3" cy="1228.1" r="8.35"/>
<circle cx="546.8" cy="1207.8" r="8.35"/>
<circle cx="552.9" cy="1193.6" r="8.35"/>
<circle cx="544.8" cy="1228.1" r="8.35"/>
<circle cx="568.3" cy="1109.7" r="8.35"/>
<circle cx="590.7" cy="1111.2" r="8.35"/>
<circle cx="592.7" cy="1117.3" r="8.35"/>
<circle cx="627.8" cy="1112.2" r="8.35"/>
<circle cx="631.9" cy="1115.8" r="8.35"/>
<circle cx="663.4" cy="1116.3" r="8.35"/>
<circle cx="665.9" cy="1133.6" r="8.35"/>
<circle cx="564.2" cy="1144.2" r="8.35"/>
<circle cx="595.8" cy="1134.1" r="8.35"/>
<circle cx="615.1" cy="1145.3" r="8.35"/>
<circle cx="641.5" cy="1149.3" r="8.35"/>
<circle cx="658.8" cy="1154.4" r="8.35"/>
<circle cx="597.3" cy="1155.4" r="8.35"/>
<circle cx="578.5" cy="1168.6" r="8.35"/>
<circle cx="604.9" cy="1168.1" r="8.35"/>
<circle cx="619.2" cy="1163.1" r="8.35"/>
<circle cx="625.3" cy="1160.0" r="8.35"/>
<circle cx="632.4" cy="1169.2" r="8.35"/>
<circle cx="632.4" cy="1174.7" r="8.35"/>
<circle cx="610.0" cy="1180.3" r="8.35"/>
<circle cx="693.4" cy="1161.0" r="8.35"/>
<circle cx="706.6" cy="1171.2" r="8.35"/>
<circle cx="676.1" cy="1171.2" r="8.35"/>
<circle cx="671.0" cy="1178.3" r="8.35"/>
<circle cx="669.0" cy="1183.4" r="8.35"/>
<circle cx="677.6" cy="1184.9" r="8.35"/>
<circle cx="561.7" cy="1177.8" r="8.35"/>
<circle cx="569.8" cy="1185.4" r="8.35"/>
<circle cx="583.6" cy="1196.1" r="8.35"/>
<circle cx="566.8" cy="1203.7" r="8.35"/>
<circle cx="576.4" cy="1200.7" r="8.35"/>
<circle cx="589.2" cy="1207.8" r="8.35"/>
<circle cx="561.2" cy="1215.9" r="8.35"/>
<circle cx="616.1" cy="1201.7" r="8.35"/>
<circle cx="616.1" cy="1211.9" r="8.35"/>
<circle cx="623.2" cy="1224.6" r="8.35"/>
<circle cx="638.5" cy="1198.1" r="8.35"/>
<circle cx="648.1" cy="1194.1" r="8.35"/>
<circle cx="669.8" cy="1221.0" r="8.35"/>
<circle cx="600.8" cy="1229.2" r="8.35"/>
<circle cx="610.0" cy="1233.2" r="8.35"/>
<circle cx="579.5" cy="1234.2" r="8.35"/>
<circle cx="645.1" cy="1234.2" r="8.35"/>
<circle cx="552.0" cy="1232.2" r="8.35"/>
<circle cx="768.9" cy="1137.3" r="8.35"/>
<circle cx="809.5" cy="1131.9" r="8.35"/>
<circle cx="741.5" cy="1157.8" r="8.35"/>
<circle cx="821.4" cy="1178.8" r="8.35"/>
<circle cx="778.1" cy="1229.1" r="8.35"/>
<circle cx="793.6" cy="1236.9" r="8.35"/>
<circle cx="719.6" cy="1253.4" r="8.35"/>
<circle cx="746.3" cy="1266.7" r="8.35"/>
<circle cx="749.2" cy="1270.3" r="8.35"/>
<circle cx="225.9" cy="1291.4" r="8.35"/>
<circle cx="309.7" cy="1282.2" r="8.35"/>
<circle cx="317.1" cy="1295.8" r="8.35"/>
<circle cx="341.9" cy="1296.4" r="8.35"/>
<circle cx="347.3" cy="1295.1" r="8.35"/>
<circle cx="350.7" cy="1305.3" r="8.35"/>
<circle cx="371.7" cy="1309.3" r="8.35"/>
<circle cx="359.5" cy="1317.7" r="8.35"/>
<circle cx="271.0" cy="1313.4" r="8.35"/>
<circle cx="333.7" cy="1324.2" r="8.35"/>
<circle cx="308.6" cy="1335.1" r="8.35"/>
<circle cx="366.7" cy="1345.3" r="8.35"/>
<circle cx="382.5" cy="1346.6" r="8.35"/>
<circle cx="348.6" cy="1358.4" r="8.35"/>
<circle cx="362.6" cy="1357.9" r="8.35"/>
<circle cx="287.4" cy="1361.9" r="8.35"/>
<circle cx="317.7" cy="1394.7" r="8.35"/>
<circle cx="352.0" cy="1400.2" r="8.35"/>
<circle cx="366.7" cy="1392.7" r="8.35"/>
<circle cx="365.6" cy="1405.6" r="8.35"/>
<circle cx="369.4" cy="1418.5" r="8.35"/>
<circle cx="383.2" cy="1393.4" r="8.35"/>
<circle cx="385.3" cy="1423.9" r="8.35"/>
<circle cx="353.1" cy="1437.9" r="8.35"/>
<circle cx="405.0" cy="1240.0" r="8.35"/>
<circle cx="397.8" cy="1253.4" r="8.35"/>
<circle cx="401.9" cy="1267.2" r="8.35"/>
<circle cx="427.3" cy="1247.3" r="8.35"/>
<circle cx="437.5" cy="1245.3" r="8.35"/>
<circle cx="435.4" cy="1251.4" r="8.35"/>
<circle cx="450.2" cy="1252.4" r="8.35"/>
<circle cx="463.9" cy="1244.3" r="8.35"/>
<circle cx="451.2" cy="1261.6" r="8.35"/>
<circle cx="458.3" cy="1258.5" r="8.35"/>
<circle cx="471.5" cy="1259.5" r="8.35"/>
<circle cx="457.8" cy="1273.8" r="8.35"/>
<circle cx="461.4" cy="1268.7" r="8.35"/>
<circle cx="483.2" cy="1273.8" r="8.35"/>
<circle cx="478.6" cy="1278.8" r="8.35"/>
<circle cx="414.6" cy="1284.4" r="8.35"/>
<circle cx="422.7" cy="1279.9" r="8.35"/>
<circle cx="431.4" cy="1274.8" r="8.35"/>
<circle cx="442.0" cy="1279.9" r="8.35"/>
<circle cx="432.9" cy="1285.0" r="8.35"/>
<circle cx="396.8" cy="1297.7" r="8.35"/>
<circle cx="468.5" cy="1291.1" r="8.35"/>
<circle cx="507.1" cy="1279.9" r="8.35"/>
<circle cx="512.2" cy="1244.3" r="8.35"/>
<circle cx="515.3" cy="1236.1" r="8.35"/>
<circle cx="538.1" cy="1248.8" r="8.35"/>
<circle cx="547.8" cy="1234.1" r="8.35"/>
<circle cx="552.9" cy="1243.3" r="8.35"/>
<circle cx="515.3" cy="1265.6" r="8.35"/>
<circle cx="525.4" cy="1261.6" r="8.35"/>
<circle cx="535.6" cy="1270.7" r="8.35"/>
<circle cx="542.7" cy="1262.6" r="8.35"/>
<circle cx="552.9" cy="1276.8" r="8.35"/>
<circle cx="552.9" cy="1256.5" r="8.35"/>
<circle cx="519.3" cy="1286.0" r="8.35"/>
<circle cx="503.6" cy="1295.1" r="8.35"/>
<circle cx="526.4" cy="1297.2" r="8.35"/>
<circle cx="544.8" cy="1299.2" r="8.35"/>
<circle cx="551.9" cy="1296.1" r="8.35"/>
<circle cx="434.9" cy="1303.3" r="8.35"/>
<circle cx="443.1" cy="1297.2" r="8.35"/>
<circle cx="434.9" cy="1309.4" r="8.35"/>
<circle cx="461.4" cy="1299.2" r="8.35"/>
<circle cx="477.6" cy="1304.3" r="8.35"/>
<circle cx="481.7" cy="1299.2" r="8.35"/>
<circle cx="454.2" cy="1314.4" r="8.35"/>
<circle cx="441.0" cy="1324.6" r="8.35"/>
<circle cx="490.9" cy="1313.4" r="8.35"/>
<circle cx="503.1" cy="1312.4" r="8.35"/>
<circle cx="488.8" cy="1322.6" r="8.35"/>
<circle cx="527.5" cy="1314.4" r="8.35"/>
<circle cx="529.5" cy="1325.6" r="8.35"/>
<circle cx="457.3" cy="1329.7" r="8.35"/>
<circle cx="454.2" cy="1335.8" r="8.35"/>
<circle cx="491.9" cy="1328.7" r="8.35"/>
<circle cx="507.1" cy="1329.7" r="8.35"/>
<circle cx="509.2" cy="1334.8" r="8.35"/>
<circle cx="400.3" cy="1330.7" r="8.35"/>
<circle cx="415.1" cy="1331.7" r="8.35"/>
<circle cx="419.7" cy="1350.0" r="8.35"/>
<circle cx="435.4" cy="1342.9" r="8.35"/>
<circle cx="481.7" cy="1340.9" r="8.35"/>
<circle cx="497.0" cy="1345.0" r="8.35"/>
<circle cx="489.8" cy="1349.0" r="8.35"/>
<circle cx="463.4" cy="1350.0" r="8.35"/>
<circle cx="453.2" cy="1357.2" r="8.35"/>
<circle cx="477.6" cy="1355.1" r="8.35"/>
<circle cx="511.2" cy="1353.1" r="8.35"/>
<circle cx="524.4" cy="1355.1" r="8.35"/>
<circle cx="534.1" cy="1346.0" r="8.35"/>
<circle cx="570.3" cy="1248.3" r="8.35"/>
<circle cx="570.3" cy="1254.4" r="8.35"/>
<circle cx="556.1" cy="1248.3" r="8.35"/>
<circle cx="622.7" cy="1246.3" r="8.35"/>
<circle cx="598.8" cy="1255.0" r="8.35"/>
<circle cx="605.4" cy="1257.5" r="8.35"/>
<circle cx="630.3" cy="1259.0" r="8.35"/>
<circle cx="650.2" cy="1255.0" r="8.35"/>
<circle cx="660.9" cy="1254.4" r="8.35"/>
<circle cx="673.6" cy="1267.7" r="8.35"/>
<circle cx="573.4" cy="1267.2" r="8.35"/>
<circle cx="554.1" cy="1268.7" r="8.35"/>
<circle cx="595.8" cy="1270.7" r="8.35"/>
<circle cx="582.5" cy="1278.8" r="8.35"/>
<circle cx="569.3" cy="1287.0" r="8.35"/>
<circle cx="590.7" cy="1289.0" r="8.35"/>
<circle cx="580.5" cy="1297.2" r="8.35"/>
<circle cx="593.7" cy="1296.1" r="8.35"/>
<circle cx="621.2" cy="1289.0" r="8.35"/>
<circle cx="645.6" cy="1285.0" r="8.35"/>
<circle cx="653.2" cy="1293.6" r="8.35"/>
<circle cx="671.0" cy="1301.2" r="8.35"/>
<circle cx="632.4" cy="1302.7" r="8.35"/>
<circle cx="630.3" cy="1305.3" r="8.35"/>
<circle cx="573.4" cy="1306.8" r="8.35"/>
<circle cx="579.0" cy="1313.9" r="8.35"/>
<circle cx="591.7" cy="1325.1" r="8.35"/>
<circle cx="614.1" cy="1317.5" r="8.35"/>
<circle cx="614.1" cy="1324.6" r="8.35"/>
<circle cx="683.7" cy="1317.0" r="8.35"/>
<circle cx="628.8" cy="1338.3" r="8.35"/>
<circle cx="600.8" cy="1348.0" r="8.35"/>
<circle cx="645.6" cy="1348.5" r="8.35"/>
<circle cx="569.3" cy="1358.2" r="8.35"/>
<circle cx="771.1" cy="1332.4" r="8.35"/>
<circle cx="724.4" cy="1398.0" r="8.35"/>
<circle cx="390.2" cy="1365.7" r="8.35"/>
<circle cx="393.2" cy="1377.9" r="8.35"/>
<circle cx="400.3" cy="1387.5" r="8.35"/>
<circle cx="393.7" cy="1397.7" r="8.35"/>
<circle cx="409.5" cy="1404.8" r="8.35"/>
<circle cx="433.9" cy="1369.2" r="8.35"/>
<circle cx="423.7" cy="1381.4" r="8.35"/>
<circle cx="421.7" cy="1389.6" r="8.35"/>
<circle cx="437.0" cy="1380.4" r="8.35"/>
<circle cx="445.1" cy="1392.6" r="8.35"/>
<circle cx="451.2" cy="1365.2" r="8.35"/>
<circle cx="455.3" cy="1377.4" r="8.35"/>
<circle cx="451.2" cy="1387.5" r="8.35"/>
<circle cx="478.0" cy="1362.0" r="8.35"/>
<circle cx="527.0" cy="1368.2" r="8.35"/>
<circle cx="503.1" cy="1377.4" r="8.35"/>
<circle cx="506.1" cy="1394.7" r="8.35"/>
<circle cx="512.2" cy="1393.6" r="8.35"/>
<circle cx="508.1" cy="1408.9" r="8.35"/>
<circle cx="524.4" cy="1405.8" r="8.35"/>
<circle cx="534.6" cy="1403.8" r="8.35"/>
<circle cx="542.7" cy="1375.3" r="8.35"/>
<circle cx="553.9" cy="1374.3" r="8.35"/>
<circle cx="536.6" cy="1388.6" r="8.35"/>
<circle cx="551.9" cy="1389.6" r="8.35"/>
<circle cx="465.4" cy="1395.7" r="8.35"/>
<circle cx="471.5" cy="1391.6" r="8.35"/>
<circle cx="473.6" cy="1402.8" r="8.35"/>
<circle cx="473.6" cy="1413.0" r="8.35"/>
<circle cx="486.8" cy="1394.7" r="8.35"/>
<circle cx="389.2" cy="1421.1" r="8.35"/>
<circle cx="401.9" cy="1422.1" r="8.35"/>
<circle cx="435.9" cy="1423.1" r="8.35"/>
<circle cx="445.1" cy="1432.3" r="8.35"/>
<circle cx="456.8" cy="1421.1" r="8.35"/>
<circle cx="450.2" cy="1448.1" r="8.35"/>
<circle cx="479.2" cy="1435.3" r="8.35"/>
<circle cx="547.8" cy="1432.3" r="8.35"/>
<circle cx="552.9" cy="1443.5" r="8.35"/>
<circle cx="398.8" cy="1460.3" r="8.35"/>
<circle cx="509.7" cy="1457.7" r="8.35"/>
<circle cx="513.2" cy="1474.0" r="8.35"/>
<circle cx="426.8" cy="1482.1" r="8.35"/>
<circle cx="417.6" cy="1486.2" r="8.35"/>
<circle cx="607.5" cy="1366.7" r="8.35"/>
<circle cx="612.5" cy="1375.3" r="8.35"/>
<circle cx="685.3" cy="1365.7" r="8.35"/>
<circle cx="568.3" cy="1400.8" r="8.35"/>
<circle cx="571.9" cy="1403.8" r="8.35"/>
<circle cx="641.0" cy="1398.9" r="8.35"/>
<circle cx="559.7" cy="1425.7" r="8.35"/>
<circle cx="572.9" cy="1423.1" r="8.35"/>
<circle cx="620.2" cy="1424.2" r="8.35"/>
<circle cx="627.3" cy="1423.1" r="8.35"/>
<circle cx="620.7" cy="1440.4" r="8.35"/>
<circle cx="577.0" cy="1451.1" r="8.35"/>
<circle cx="584.6" cy="1449.6" r="8.35"/>
<circle cx="659.0" cy="1450.1" r="8.35"/>
<circle cx="629.3" cy="1467.4" r="8.35"/>
<circle cx="607.0" cy="1485.7" r="8.35"/>
<circle cx="374.4" cy="1462.8" r="8.35"/>
<circle cx="379.2" cy="1464.4" r="8.35"/>
<circle cx="291.4" cy="1483.7" r="8.35"/>
<circle cx="316.4" cy="1521.4" r="8.35"/>
<circle cx="403.7" cy="1500.5" r="8.35"/>
<circle cx="476.7" cy="1489.6" r="8.35"/>
<circle cx="493.6" cy="1497.8" r="8.35"/>
<circle cx="504.1" cy="1491.3" r="8.35"/>
<circle cx="560.7" cy="1491.3" r="8.35"/>
<circle cx="451.6" cy="1522.5" r="8.35"/>
<circle cx="506.4" cy="1518.7" r="8.35"/>
<circle cx="464.1" cy="1559.1" r="8.35"/>
<circle cx="427.2" cy="1568.8" r="8.35"/>
<circle cx="546.5" cy="1582.4" r="8.35"/>
<circle cx="412.8" cy="1601.8" r="8.35"/>
<circle cx="439.7" cy="1317.0" r="8.35"/>
<circle cx="439.7" cy="1307.0" r="8.35"/>
<circle cx="523.0" cy="1304.6" r="8.35"/>
<circle cx="529.2" cy="1319.5" r="8.35"/>
<circle cx="516.8" cy="1299.6" r="8.35"/>
<line x1="505.20" x2="505.20" y1="915.1" y2="1638.8" stroke="#000" stroke-width="3.6"/>
<line x1="143.2" x2="867.0" y1="1293.25" y2="1293.25" stroke="#000" stroke-width="3.6"/>
</g>
<rect x="143.2" y="915.1" width="723.8" height="723.6999999999999" fill="none" stroke="#3b3b3b" stroke-width="2.2"/>
<line x1="132.20" x2="143.2" y1="1540.48" y2="1540.48" stroke="#333333" stroke-width="3.2"/>
<text transform="translate(123.80 1552.98) scale(1.0 1.03)" text-anchor="end" fill="#4D4D4D" font-size="34.9">-0.2</text>
<line x1="132.20" x2="143.2" y1="1430.60" y2="1430.60" stroke="#333333" stroke-width="3.2"/>
<text transform="translate(123.80 1443.10) scale(1.0 1.03)" text-anchor="end" fill="#4D4D4D" font-size="34.9">0.0</text>
<line x1="132.20" x2="143.2" y1="1320.72" y2="1320.72" stroke="#333333" stroke-width="3.2"/>
<text transform="translate(123.80 1333.22) scale(1.0 1.03)" text-anchor="end" fill="#4D4D4D" font-size="34.9">0.2</text>
<line x1="132.20" x2="143.2" y1="1210.84" y2="1210.84" stroke="#333333" stroke-width="3.2"/>
<text transform="translate(123.80 1223.34) scale(1.0 1.03)" text-anchor="end" fill="#4D4D4D" font-size="34.9">0.4</text>
<line x1="132.20" x2="143.2" y1="1100.96" y2="1100.96" stroke="#333333" stroke-width="3.2"/>
<text transform="translate(123.80 1113.46) scale(1.0 1.03)" text-anchor="end" fill="#4D4D4D" font-size="34.9">0.6</text>
<line x1="132.20" x2="143.2" y1="991.08" y2="991.08" stroke="#333333" stroke-width="3.2"/>
<text transform="translate(123.80 1003.58) scale(1.0 1.03)" text-anchor="end" fill="#4D4D4D" font-size="34.9">0.8</text>
<line x1="175.50" x2="175.50" y1="1638.8" y2="1649.80" stroke="#333333" stroke-width="3.2"/>
<text transform="translate(175.50 1683.70) scale(1.0 1.03)" text-anchor="middle" fill="#4D4D4D" font-size="34.9">-0.6</text>
<line x1="285.40" x2="285.40" y1="1638.8" y2="1649.80" stroke="#333333" stroke-width="3.2"/>
<text transform="translate(285.40 1683.70) scale(1.0 1.03)" text-anchor="middle" fill="#4D4D4D" font-size="34.9">-0.4</text>
<line x1="395.30" x2="395.30" y1="1638.8" y2="1649.80" stroke="#333333" stroke-width="3.2"/>
<text transform="translate(395.30 1683.70) scale(1.0 1.03)" text-anchor="middle" fill="#4D4D4D" font-size="34.9">-0.2</text>
<line x1="505.20" x2="505.20" y1="1638.8" y2="1649.80" stroke="#333333" stroke-width="3.2"/>
<text transform="translate(505.20 1683.70) scale(1.0 1.03)" text-anchor="middle" fill="#4D4D4D" font-size="34.9">0.0</text>
<line x1="615.10" x2="615.10" y1="1638.8" y2="1649.80" stroke="#333333" stroke-width="3.2"/>
<text transform="translate(615.10 1683.70) scale(1.0 1.03)" text-anchor="middle" fill="#4D4D4D" font-size="34.9">0.2</text>
<line x1="725.00" x2="725.00" y1="1638.8" y2="1649.80" stroke="#333333" stroke-width="3.2"/>
<text transform="translate(725.00 1683.70) scale(1.0 1.03)" text-anchor="middle" fill="#4D4D4D" font-size="34.9">0.4</text>
<line x1="834.90" x2="834.90" y1="1638.8" y2="1649.80" stroke="#333333" stroke-width="3.2"/>
<text transform="translate(834.90 1683.70) scale(1.0 1.03)" text-anchor="middle" fill="#4D4D4D" font-size="34.9">0.6</text>
<text transform="translate(504.65 1733.20)" text-anchor="middle" font-size="42.7">GM z-score [± SD]</text>
<text transform="translate(44.20 1277.70) rotate(-90)" text-anchor="middle" font-size="42.7">Gain z-score [± SD]</text>
<text transform="translate(4.30 926.40)" font-size="45" font-weight="bold">b</text>
<rect x="1040.4" y="902.0" width="723.5999999999999" height="749.8" fill="#fff"/>
<line x1="1040.4" x2="1764.0" y1="1533.62" y2="1533.62" stroke="#EBEBEB" stroke-width="2.0"/>
<line x1="1040.4" x2="1764.0" y1="1362.48" y2="1362.48" stroke="#EBEBEB" stroke-width="2.0"/>
<line x1="1040.4" x2="1764.0" y1="1191.33" y2="1191.33" stroke="#EBEBEB" stroke-width="2.0"/>
<line x1="1040.4" x2="1764.0" y1="1020.18" y2="1020.18" stroke="#EBEBEB" stroke-width="2.0"/>
<line x1="1040.4" x2="1764.0" y1="1619.20" y2="1619.20" stroke="#EBEBEB" stroke-width="3.8"/>
<line x1="1040.4" x2="1764.0" y1="1448.05" y2="1448.05" stroke="#EBEBEB" stroke-width="3.8"/>
<line x1="1040.4" x2="1764.0" y1="1276.90" y2="1276.90" stroke="#EBEBEB" stroke-width="3.8"/>
<line x1="1040.4" x2="1764.0" y1="1105.75" y2="1105.75" stroke="#EBEBEB" stroke-width="3.8"/>
<line x1="1040.4" x2="1764.0" y1="934.60" y2="934.60" stroke="#EBEBEB" stroke-width="3.8"/>
<line x1="1237.2" x2="1237.2" y1="902.0" y2="1651.8" stroke="#EBEBEB" stroke-width="3.8"/>
<line x1="1567.0" x2="1567.0" y1="902.0" y2="1651.8" stroke="#EBEBEB" stroke-width="3.8"/>
<rect x="1063.3" y="937.5" width="314.8" height="228.1" fill="#fff"/>
<g stroke="#000" stroke-width="3.4" fill="none">
<line x1="1229.0" y1="1546.5" x2="1558.75" y2="990.8"/>
<line x1="1245.9" y1="1532.2" x2="1575.5" y2="1070.3"/>
<line x1="1229.0" x2="1229.0" y1="1507.9" y2="1585.0"/>
<line x1="1225.0" x2="1233.0" y1="1507.9" y2="1507.9"/>
<line x1="1225.0" x2="1233.0" y1="1585.0" y2="1585.0"/>
<line x1="1245.7" x2="1245.7" y1="1499.1" y2="1563.5"/>
<line x1="1241.7" x2="1249.7" y1="1499.1" y2="1499.1"/>
<line x1="1241.7" x2="1249.7" y1="1563.5" y2="1563.5"/>
<line x1="1558.75" x2="1558.75" y1="954.4" y2="1026.8"/>
<line x1="1554.75" x2="1562.75" y1="954.4" y2="954.4"/>
<line x1="1554.75" x2="1562.75" y1="1026.8" y2="1026.8"/>
<line x1="1575.5" x2="1575.5" y1="1029.7" y2="1111.25"/>
<line x1="1571.5" x2="1579.5" y1="1029.7" y2="1029.7"/>
<line x1="1571.5" x2="1579.5" y1="1111.25" y2="1111.25"/>
</g>
<circle cx="1229.0" cy="1546.5" r="7.0" fill="#000"/>
<circle cx="1558.75" cy="990.8" r="7.0" fill="#000"/>
<circle cx="1245.9" cy="1532.2" r="6.85" fill="none" stroke="#000" stroke-width="2.4"/>
<circle cx="1575.5" cy="1070.3" r="6.85" fill="none" stroke="#000" stroke-width="2.4"/>
<text transform="translate(1085.90 994.00)" font-size="42.7">Gain in school</text>
<circle cx="1116.5" cy="1051.5" r="7.0" fill="#000"/>
<circle cx="1116.5" cy="1113.2" r="6.85" fill="none" stroke="#000" stroke-width="2.4"/>
<text transform="translate(1168.50 1063.20)" font-size="34.6">high</text>
<text transform="translate(1168.50 1124.90)" font-size="34.6">low</text>
<rect x="1040.4" y="902.0" width="723.5999999999999" height="749.8" fill="none" stroke="#3b3b3b" stroke-width="2.2"/>
<line x1="1029.40" x2="1040.4" y1="1619.20" y2="1619.20" stroke="#333333" stroke-width="3.2"/>
<text transform="translate(1021.00 1631.70) scale(1.0 1.03)" text-anchor="end" fill="#4D4D4D" font-size="34.9">-0.2</text>
<line x1="1029.40" x2="1040.4" y1="1448.05" y2="1448.05" stroke="#333333" stroke-width="3.2"/>
<text transform="translate(1021.00 1460.55) scale(1.0 1.03)" text-anchor="end" fill="#4D4D4D" font-size="34.9">-0.1</text>
<line x1="1029.40" x2="1040.4" y1="1276.90" y2="1276.90" stroke="#333333" stroke-width="3.2"/>
<text transform="translate(1021.00 1289.40) scale(1.0 1.03)" text-anchor="end" fill="#4D4D4D" font-size="34.9">0.0</text>
<line x1="1029.40" x2="1040.4" y1="1105.75" y2="1105.75" stroke="#333333" stroke-width="3.2"/>
<text transform="translate(1021.00 1118.25) scale(1.0 1.03)" text-anchor="end" fill="#4D4D4D" font-size="34.9">0.1</text>
<line x1="1029.40" x2="1040.4" y1="934.60" y2="934.60" stroke="#333333" stroke-width="3.2"/>
<text transform="translate(1021.00 947.10) scale(1.0 1.03)" text-anchor="end" fill="#4D4D4D" font-size="34.9">0.2</text>
<line x1="1237.2" x2="1237.2" y1="1651.8" y2="1662.80" stroke="#333333" stroke-width="3.2"/>
<text transform="translate(1237.20 1696.60)" text-anchor="middle" fill="#4D4D4D" font-size="34.6">low</text>
<line x1="1567.0" x2="1567.0" y1="1651.8" y2="1662.80" stroke="#333333" stroke-width="3.2"/>
<text transform="translate(1567.00 1696.60)" text-anchor="middle" fill="#4D4D4D" font-size="34.6">high</text>
<text transform="translate(1402.30 1746.00)" text-anchor="middle" font-size="42.7">Physical fitness in school</text>
<text transform="translate(941.10 1277.20) rotate(-90)" text-anchor="middle" font-size="42.7">GM z-score [± SD]</text>
<text transform="translate(901.00 926.40) scale(0.95 1.0)" font-size="45" font-weight="bold">c</text>
</svg></body></html>
